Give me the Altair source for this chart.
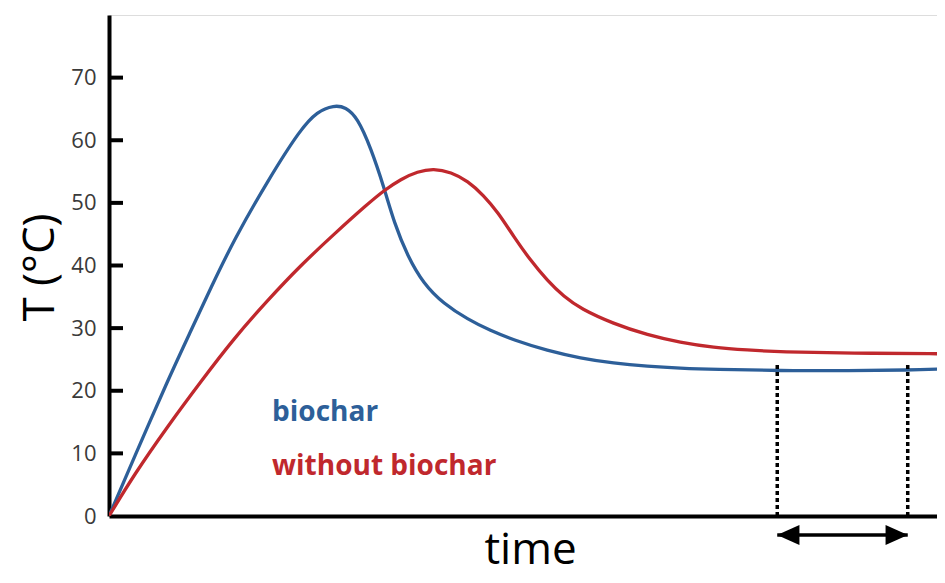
import altair as alt
import pandas as pd

# ---- data (time in arbitrary units, T in °C) ----
blue_time = [0, 3.0, 7.0, 9.8, 12.2, 14.9, 19.0, 22.9, 24.9, 26.9, 28.3, 29.7, 31.3, 32.9,
             34.1, 35.7, 37.6, 40.0, 42.9, 45.6, 48.4, 52.4, 56.4, 60.3, 64.4, 68.3,
             72.3, 80.3, 88.6, 95.5, 100]
blue_temp = [0, 9.3, 21.6, 29.6, 36.5, 44.0, 53.6, 61.8, 64.6, 65.6, 65.3, 63.6, 58.8, 52.4,
             46.8, 41.5, 37.1, 33.9, 31.4, 29.6, 28.1, 26.4, 25.2, 24.4, 23.9, 23.6,
             23.4, 23.2, 23.2, 23.3, 23.5]

red_time = [0, 3.0, 7.0, 11.0, 14.9, 19.0, 22.9, 26.9, 30.9, 32.9, 34.9, 36.9, 38.8, 40.9,
            42.9, 44.8, 46.5, 48.4, 50.4, 52.4, 54.4, 56.4, 60.3, 64.4, 68.3, 72.3, 76.3,
            80.3, 88.6, 100]
red_temp = [0, 6.6, 14.3, 21.5, 28.3, 34.5, 40.0, 45.0, 49.8, 52.0, 53.8, 55.0, 55.5, 54.9,
            53.5, 51.2, 48.5, 44.6, 40.8, 37.6, 35.0, 33.1, 30.7, 28.9, 27.7, 26.9, 26.5,
            26.2, 26.0, 25.9]

series_names = ["biochar", "without biochar"]
series_colors = ["#2d5f99", "#c0282d"]

y_ticks = [0, 10, 20, 30, 40, 50, 60, 70]
inner_ticks = [10, 20, 30, 40, 50, 60, 70]

# labels inside the chart
label_text = ["biochar", "without biochar"]
label_time = [19.5, 19.5]
label_temp = [15.2, 6.5]

# steady-state interval markers
interval_time = [79.9, 95.5]
interval_top = [24.5, 24.5]

# ---- tables ----
rows = []
for t, v in zip(blue_time, blue_temp):
    rows.append({"time": t, "T": v, "series": series_names[0]})
for t, v in zip(red_time, red_temp):
    rows.append({"time": t, "T": v, "series": series_names[1]})
df = pd.DataFrame(rows)

labels_df = pd.DataFrame({"text": label_text, "time": label_time, "T": label_temp,
                          "series": series_names})
dash_df = pd.DataFrame({"time": interval_time, "T0": [0, 0], "T1": interval_top})
arrow_df = pd.DataFrame({"start": [interval_time[0]], "end": [interval_time[1]]})
tick_df = pd.DataFrame({"T": inner_ticks})

FONT = "Open Sans"
x_scale = alt.Scale(domain=[0, 99], nice=False, zero=False)
y_scale = alt.Scale(domain=[0, 80], nice=False)
color_scale = alt.Scale(domain=series_names, range=series_colors)

lines = alt.Chart(df).mark_line(strokeWidth=3.3, interpolate="basis", clip=True).encode(
    x=alt.X("time:Q", scale=x_scale,
            axis=alt.Axis(labels=False, ticks=False, grid=False, domainWidth=4,
                          domainColor="black", title="time", titleFont=FONT,
                          titleFontSize=44, titleFontWeight="normal", titleColor="black",
                          titleX=421, titleY=47, titleAlign="center",
                          titleBaseline="alphabetic")),
    y=alt.Y("T:Q", scale=y_scale,
            axis=alt.Axis(values=y_ticks, ticks=False, grid=False, domainWidth=4,
                          domainColor="black", labelFont=FONT, labelFontSize=22,
                          labelColor="#3a3a3a", labelPadding=13, title="T (°C)",
                          titleFont=FONT, titleFontSize=44, titleFontWeight="normal",
                          titleColor="black", titleX=-69, titleY=252, titleAngle=270,
                          titleAlign="center", titleBaseline="middle")),
    color=alt.Color("series:N", scale=color_scale, legend=None),
    detail="series:N",
)

ticks = alt.Chart(tick_df).mark_rule(color="black", strokeWidth=4).encode(
    y=alt.Y("T:Q", scale=y_scale),
    x=alt.value(0),
    x2=alt.value(14),
)

texts = alt.Chart(labels_df).mark_text(
    align="left", baseline="alphabetic", font=FONT, fontSize=28, fontWeight="bold"
).encode(
    x=alt.X("time:Q", scale=x_scale),
    y=alt.Y("T:Q", scale=y_scale),
    text="text:N",
    color=alt.Color("series:N", scale=color_scale, legend=None),
)

dashes = alt.Chart(dash_df).mark_rule(color="black", strokeWidth=3.5, strokeDash=[4, 3]).encode(
    x=alt.X("time:Q", scale=x_scale),
    y=alt.Y("T0:Q", scale=y_scale),
    y2="T1:Q",
)

shaft = alt.Chart(arrow_df).mark_rule(color="black", strokeWidth=3.5).encode(
    x=alt.X("start:Q", scale=x_scale),
    x2="end:Q",
    y=alt.value(520),
)

head_shape_left = "M-1,0L1,-0.9L1,0.9Z"
head_shape_right = "M1,0L-1,-0.9L-1,0.9Z"
head_left = alt.Chart(arrow_df).mark_point(
    shape=head_shape_left, filled=True, color="black", opacity=1, size=500, xOffset=11
).encode(x=alt.X("start:Q", scale=x_scale), y=alt.value(520))
head_right = alt.Chart(arrow_df).mark_point(
    shape=head_shape_right, filled=True, color="black", opacity=1, size=500, xOffset=-11
).encode(x=alt.X("end:Q", scale=x_scale), y=alt.value(520))

chart = alt.layer(lines, ticks, dashes, texts, shaft, head_left, head_right).properties(
    width=828,
    height=501,
    autosize=alt.AutoSizeParams(type="none"),
    padding={"left": 101, "top": 7, "right": 0, "bottom": 59},
).configure_view(stroke=None).configure(background="white")

chart.save("out.html", embed_options={"renderer": "svg", "actions": False})
